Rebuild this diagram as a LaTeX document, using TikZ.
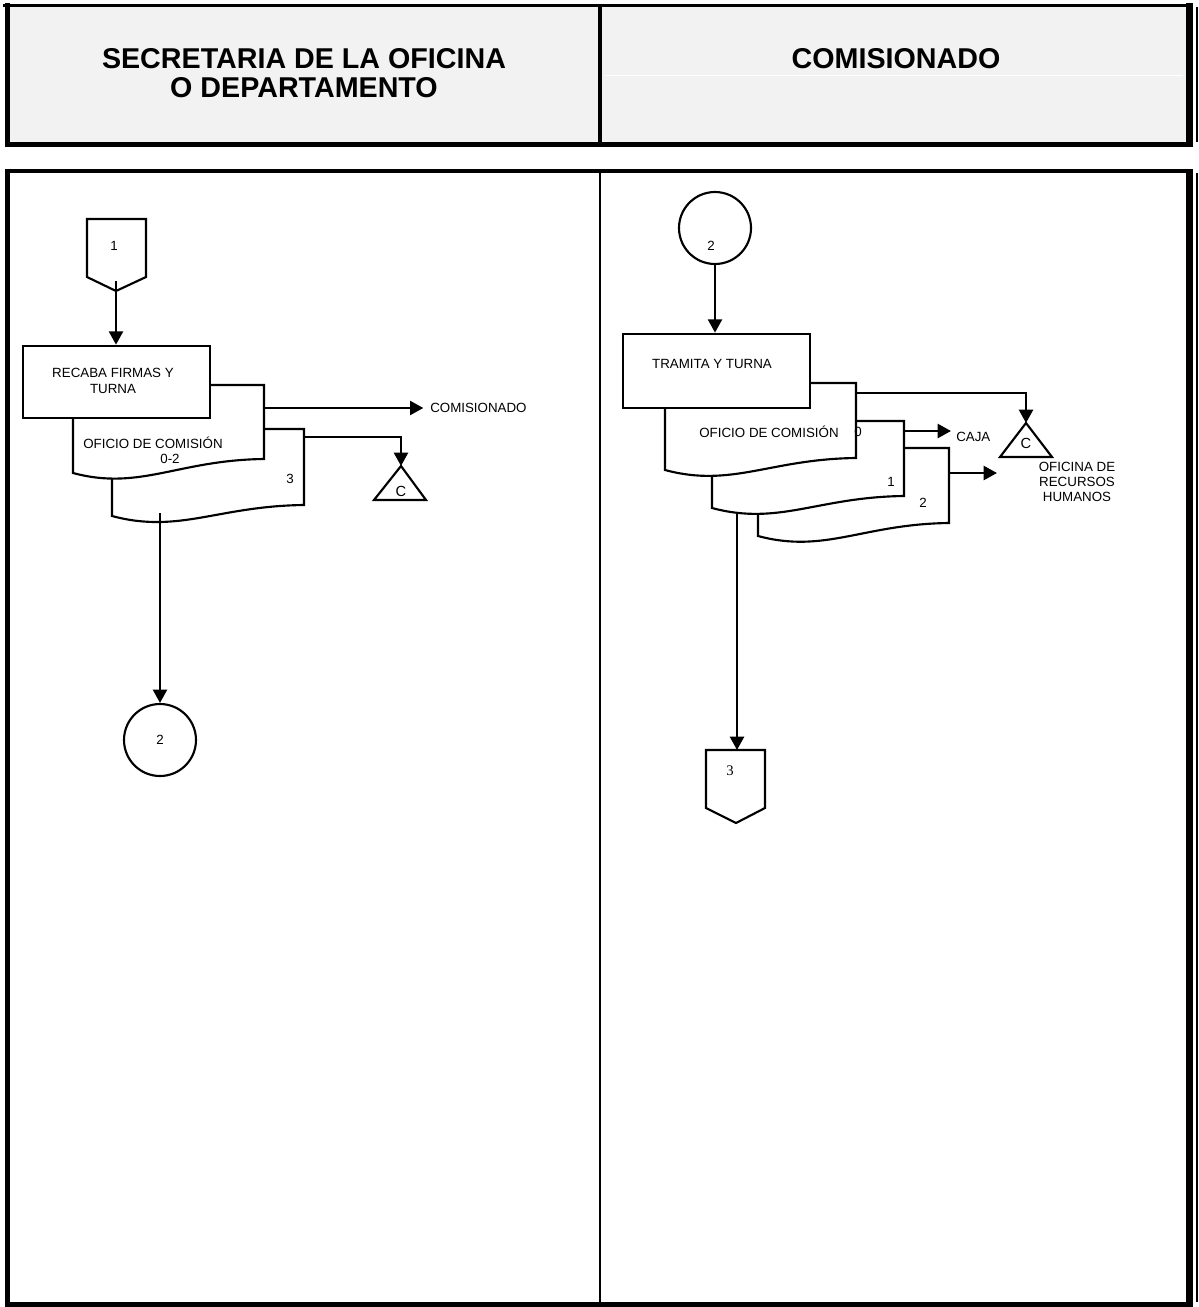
\documentclass[tikz,border=0pt]{standalone}
\usepackage{fontspec}
\setmainfont{Liberation Sans}
\newfontfamily\numserif{Liberation Serif}
\usetikzlibrary{arrows.meta}

\definecolor{headgray}{HTML}{F2F2F2}

% document symbol: left, top, right, bottom-right y, bottom-left y
\newcommand\drawdoc[5]{%
  \path[docshape] (#1,#2) -- (#3,#2) -- (#3,#4)
    .. controls ({#1+0.55*(#3-#1)},{#4+1}) and ({#1+0.35*(#3-#1)},{#5+18}) .. (#1,#5) -- cycle;}

\tikzset{
  lbl/.style={font=\fontsize{10}{11.3}\selectfont, inner sep=0pt, align=center},
  headtxt/.style={font=\fontsize{21.5}{21.75}\selectfont\bfseries, inner sep=0pt, align=center},
  procbox/.style={draw, line width=2pt, fill=white, minimum width=140.25pt, inner sep=0pt},
  docshape/.style={draw, line width=1.6pt, fill=white, line join=miter},
  connector/.style={draw, line width=1.6pt, circle, minimum size=54pt, inner sep=0pt, fill=white},
  offpage/.style={draw, line width=1.6pt, fill=white, line join=miter},
  flow/.style={line width=1.8pt, -{Triangle[length=10pt,width=10.5pt]}},
  plain/.style={line width=1.6pt},
  frame/.style={line cap=rect},
}

\begin{document}
\begin{tikzpicture}[x=0.75pt, y=-0.75pt]
\useasboundingbox (0,0) rectangle (1199,1307);

% ---------- header ----------
\fill[headgray] (7,6) rectangle (1189,144);
\draw[white, line width=0.8pt] (605,75.7) -- (1183,75.7);
\draw[frame, line width=2.6pt] (5,5.3) -- (1189,5.3);
\draw[frame, line width=3.75pt] (7.5,5.3) -- (7.5,144.2);
\draw[line width=3.75pt] (5.6,144.2) -- (1193,144.2);
\draw[line width=2.3pt] (600,5.3) -- (600,144.2);
\draw[line width=5.25pt] (1189.5,3.3) -- (1189.5,146.7);
\draw[line width=1.5pt] (1196.5,7) -- (1196.5,141.7);

\node[headtxt] (hdrA) at (304,73.5) {SECRETARIA DE LA OFICINA\\O DEPARTAMENTO};
\node[headtxt] (hdrB) at (896,59) {COMISIONADO};

% ---------- body frame ----------
\draw[frame, line width=3pt] (7.5,171.3) -- (1189,171.3);
\draw[frame, line width=3.75pt] (7.5,171.3) -- (7.5,1304.2);
\draw[line width=3.75pt] (5.6,1304.2) -- (1193,1304.2);
\draw[line width=1.9pt] (600,171.3) -- (600,1304.2);
\draw[line width=5.25pt] (1189.5,169.3) -- (1189.5,1306.7);
\draw[line width=1.5pt] (1196.5,173) -- (1196.5,1301.7);

% ---------- left lane ----------
\path[offpage] (87,219) -- (146,219) -- (146,277) -- (116,291) -- (87,277) -- cycle;
\node[lbl] (off1) at (114,246) {1};
\coordinate (off1out) at (116,281);

\drawdoc{112}{429}{304}{505}{516}
\drawdoc{73}{385}{264}{459}{473}
\node[lbl] (docLa) at (153,443) {OFICIO DE COMISIÓN};
\node[lbl] (docLb) at (170,459) {0-2};
\node[lbl] (docLc) at (290,479) {3};

\node[procbox, minimum height=54pt] (recaba) at (116.5,382) {};
\node[lbl, font=\fontsize{10}{12.2}\selectfont] (recabaTxt) at (113,381) {RECABA FIRMAS Y\\TURNA};

\draw[flow] (off1out) -- (off1out |- recaba.north);

\coordinate (docL1e) at (264,408);
\node[lbl, anchor=west] (destCom) at (430,408) {COMISIONADO};
\draw[flow, shorten >=5pt] (docL1e) -- (destCom.west);

\path[plain, draw, line join=miter] (401,466) -- (426,500) -- (374,500) -- cycle;
\coordinate (archL) at (401,466);
\node[lbl, font=\fontsize{11}{12}\selectfont] (archLtxt) at (401,491) {C};
\coordinate (docL2e) at (304,437);
\draw[flow] (docL2e) -| (archL);

\node[connector] (circL) at (160,740) {};
\node[lbl] (circLtxt) at (160,740) {2};
\coordinate (docL2out) at (160,513);
\draw[flow] (docL2out) -- (docL2out |- circL.north);

% ---------- right lane ----------
\node[connector] (circR) at (715,228) {};
\node[lbl] (circRtxt) at (711,246) {2};

\drawdoc{758}{448}{949}{523}{536}
\drawdoc{712}{421}{904}{496}{508}
\drawdoc{665}{383}{856}{458}{470}
\node[lbl] (docRa) at (769,432) {OFICIO DE COMISIÓN};
\node[lbl] (docRb) at (858,432) {0};
\node[lbl] (docRc) at (891,482) {1};
\node[lbl] (docRd) at (923,503) {2};

\node[procbox, minimum height=55.5pt] (tramita) at (716.5,371) {};
\node[lbl] (tramitaTxt) at (712,364) {TRAMITA Y TURNA};

\draw[flow] (circR.south) -- (circR.south |- tramita.north);

\path[plain, draw, line join=miter] (1026,423) -- (1052,457) -- (1000,457) -- cycle;
\coordinate (archR) at (1026,423);
\node[lbl, font=\fontsize{11}{12}\selectfont] (archRtxt) at (1026,443) {C};
\coordinate (docR1e) at (856,393);
\draw[flow] (docR1e) -| (archR);

\coordinate (docR2e) at (904,431);
\node[lbl, anchor=west] (destCaja) at (956,437) {CAJA};
\draw[flow] (docR2e) -- (951,431) coordinate (cajaTip);

\coordinate (docR3e) at (949,473);
\node[lbl] (destRH) at (1077,482) {OFICINA DE\\RECURSOS\\HUMANOS};
\draw[flow] (docR3e) -- (997,473) coordinate (rhTip);

\path[offpage] (706,750) -- (765,750) -- (765,808) -- (736,823) -- (706,808) -- cycle;
\node[lbl, font=\numserif\fontsize{11}{12}\selectfont] (off3) at (730,771) {3};
\coordinate (off3in) at (737,750);
\coordinate (docR2out) at (737,512);
\draw[flow] (docR2out) -- (off3in);
\end{tikzpicture}
\end{document}
